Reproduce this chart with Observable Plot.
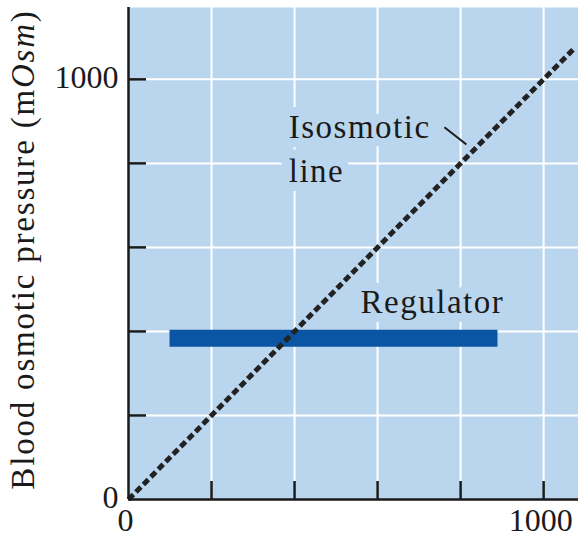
<!DOCTYPE html>
<html><head><meta charset="utf-8">
<script src="https://cdn.jsdelivr.net/npm/d3@7"></script>
<script src="https://cdn.jsdelivr.net/npm/@observablehq/plot@0.6"></script>
<style>body{margin:0;background:#fff}</style>
</head><body><div id="chart"></div>
<script>
// ---- data ----
const xTicks = [200, 400, 600, 800, 1000];
const yTicks = [200, 400, 600, 800, 1000];
const xTickLabels = [0, 1000];
const yTickLabels = [0, 1000];
const isoX = [0, 1075];
const isoY = [0, 1075];
const regulatorX = [100, 890];
const regulatorY = [384];
const yLabel = "Blood osmotic pressure (mOsm)";
const labelText = ["Isosmotic", "line", "Regulator"];
const labelX = [386, 386, 559];
const labelY = [885, 782, 468];
const leaderFrom = [761, 886];
const leaderTo = [814, 845];

const bg = "#bad6ef";
const ink = "#1a1a1a";
const font = "Liberation Serif";

const isoData = isoX.map((x, i) => ({x, y: isoY[i]}));
const labels = labelText.map((t, i) => ({t, x: labelX[i], y: labelY[i]}));
const leader = [{x1: leaderFrom[0], y1: leaderFrom[1], x2: leaderTo[0], y2: leaderTo[1]}];

const W = 578, H = 546, mL = 128, mR = 0, mT = 7, mB = 47;
const plotW = W - mL - mR, plotH = H - mT - mB;

const chart = Plot.plot({
  width: W, height: H,
  marginLeft: mL, marginRight: mR, marginTop: mT, marginBottom: mB,
  style: {background: "white", color: ink, fontFamily: font},
  x: {domain: [0, 1084], axis: null},
  y: {domain: [0, 1171], axis: null},
  marks: [
    Plot.frame({fill: bg}),
    Plot.ruleX(xTicks, {stroke: "white", strokeWidth: 2}),
    Plot.ruleY(yTicks, {stroke: "white", strokeWidth: 2}),
    Plot.ruleY(regulatorY, {x1: regulatorX[0], x2: regulatorX[1], stroke: "#0a56a5", strokeWidth: 17}),
    Plot.line(isoData, {x: "x", y: "y", stroke: "#222", strokeWidth: 5, strokeDasharray: "7,3.6", strokeLinecap: "butt"}),
    Plot.text(labels, {x: "x", y: "y", text: "t", textAnchor: "start", fontSize: 33,
      fill: ink, stroke: bg, strokeWidth: 18, strokeLinejoin: "round"}),
    Plot.link(leader, {x1: "x1", y1: "y1", x2: "x2", y2: "y2", stroke: ink, strokeWidth: 2}),
    Plot.tickX(xTicks, {x: d => d, stroke: ink, strokeWidth: 2.5, insetTop: plotH - 18}),
    Plot.tickY(yTicks, {y: d => d, stroke: ink, strokeWidth: 2.5, insetRight: plotW - 18}),
    Plot.ruleX([0], {stroke: ink, strokeWidth: 2.5}),
    Plot.ruleY([0], {stroke: ink, strokeWidth: 2.5}),
    Plot.text(xTickLabels, {x: d => d, frameAnchor: "bottom", dy: 31, dx: -3, text: d => String(d), fontSize: 32, fill: ink}),
    Plot.text(yTickLabels, {y: d => d, frameAnchor: "left", textAnchor: "end", dx: -10, dy: -2, text: d => String(d), fontSize: 32, fill: ink}),
    Plot.text([yLabel], {frameAnchor: "left", textAnchor: "middle", rotate: -90, dx: -105.5, dy: -4, text: d => d, fontSize: 33, fill: ink})
  ]
});

const svg = d3.select(chart);
svg.selectAll("text").each(function() {
  const t = this.textContent;
  if (t === yLabel) {
    const el = d3.select(this);
    el.style("letter-spacing", "1.8px").attr("text-anchor", "middle").text(null);
    el.append("tspan").text("Blood osmotic pressure (m");
    el.append("tspan").attr("font-style", "italic").text("Osm");
    el.append("tspan").text(")");
  } else if (labelText.includes(t)) {
    d3.select(this).style("letter-spacing", "1.5px");
  }
});

document.getElementById("chart").appendChild(chart);
</script>
</body></html>
